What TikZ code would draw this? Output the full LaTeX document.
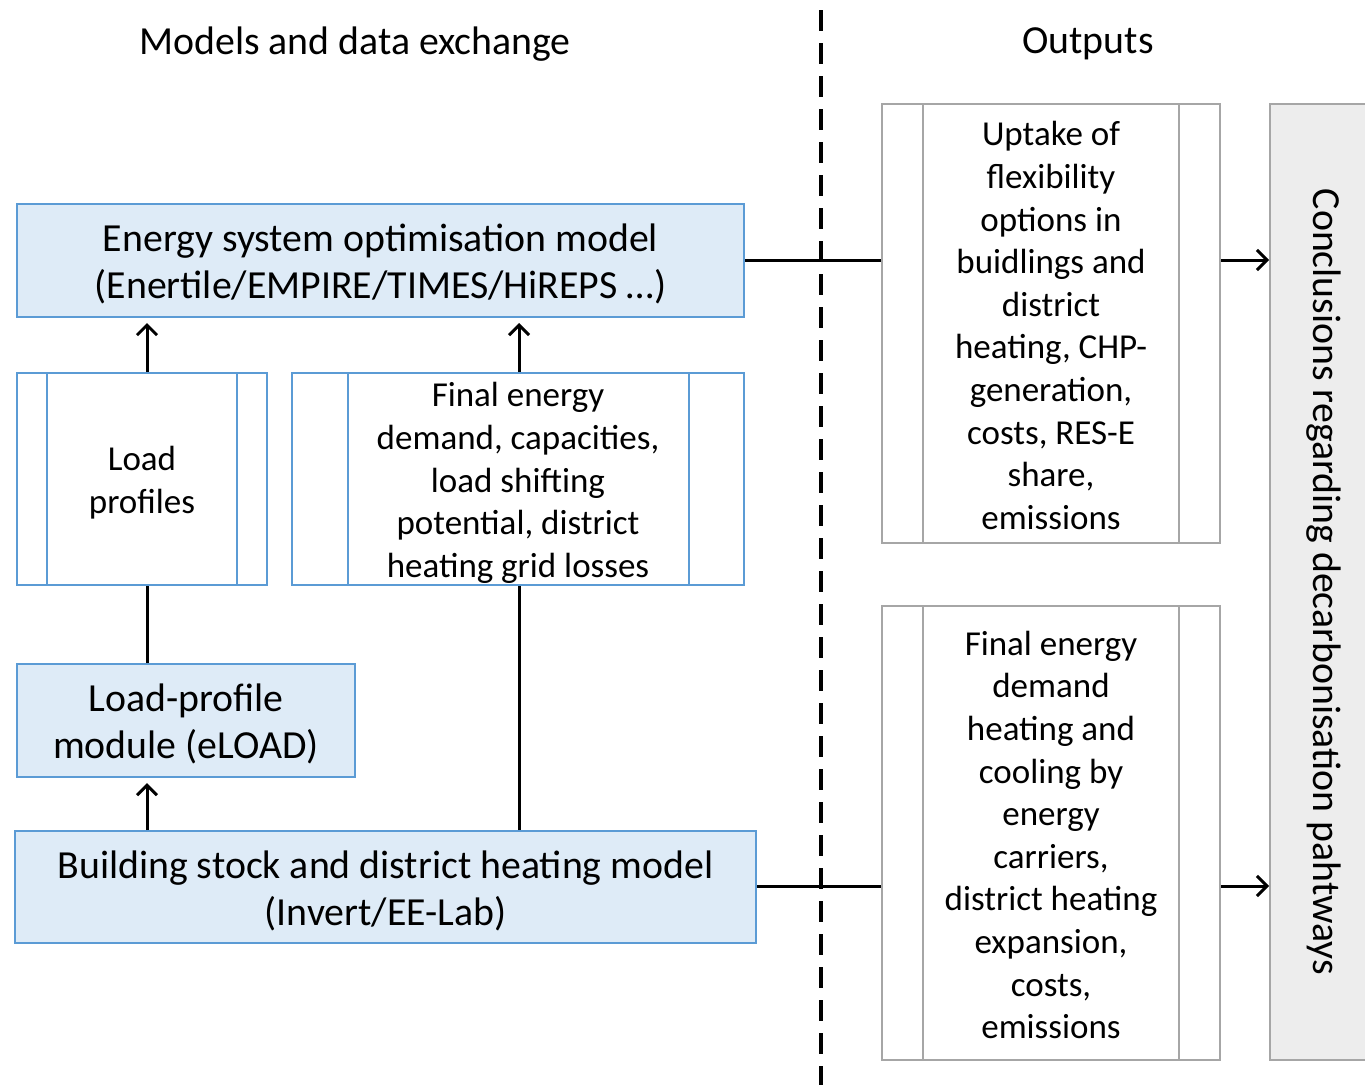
\documentclass[tikz,border=0pt]{standalone}
\usepackage{fontspec}
\setmainfont{Carlito}
\usetikzlibrary{arrows.meta}
\definecolor{bfill}{HTML}{DEEBF7}
\definecolor{bline}{HTML}{5B9BD5}
\definecolor{gline}{HTML}{A6A6A6}
\definecolor{gfill}{HTML}{EDEDED}
\tikzset{
  x=1pt,y=1pt,
  bigtxt/.style={font=\fontsize{39.8}{47}\selectfont},
  smalltxt/.style={font=\fontsize{35}{42.6}\selectfont},
  bluebox/.style={draw=bline,fill=bfill,line width=2pt,inner sep=0pt},
  procbox/.style={draw=bline,fill=white,line width=2pt,inner sep=0pt},
  outbox/.style={draw=gline,fill=white,line width=2pt,inner sep=0pt},
  bt/.style={bigtxt,align=center,inner sep=0pt},
  st/.style={smalltxt,align=center,inner sep=0pt},
  conn/.style={line width=3pt},
  arr/.style={line width=3pt,-{Straight Barb[length=10pt,width=20pt,line width=3pt]}},
}
\begin{document}
\begin{tikzpicture}
\useasboundingbox (0,0) rectangle (1365,-1084);
% titles
\node[bigtxt] (t1) at (355,-44) {Models and data exchange};
\node[bigtxt] (t2) at (1088,-44) {Outputs};
% dashed divider
\coordinate (dtop) at (821,-10);
\coordinate (dbot) at (821,-1090);
\draw[line width=3.5pt,dash pattern=on 21pt off 12pt] (dtop) -- (dbot);
% blue boxes
\node[bluebox,minimum width=727pt,minimum height=113pt] (esom) at (380.5,-260.5) {};
\node[bt] (esomt) at ([yshift=-3.5pt]esom.center)
  {Energy system optimisation model\\(Enertile/EMPIRE/TIMES/HiREPS …)};
\node[bluebox,minimum width=338pt,minimum height=113pt] (lpm) at (186,-720.5) {};
\node[bt] (lpmt) at ([yshift=-3.5pt]lpm.center) {Load-profile\\module (eLOAD)};
\node[bluebox,minimum width=741pt,minimum height=112pt] (bsm) at (385.5,-887) {};
\node[bt] (bsmt) at ([yshift=-3.5pt]bsm.center)
  {Building stock and district heating model\\(Invert/EE-Lab)};
% process boxes
\node[procbox,minimum width=250pt,minimum height=212pt] (lp) at (142,-479) {};
\node[st] (lpt) at ([yshift=-3.5pt]lp.center) {Load\\profiles};
\draw[bline,line width=2pt] ([xshift=31pt]lp.north west) -- ([xshift=31pt]lp.south west);
\draw[bline,line width=2pt] ([xshift=-31pt]lp.north east) -- ([xshift=-31pt]lp.south east);
\node[procbox,minimum width=452pt,minimum height=212pt] (fed) at (518,-479) {};
\node[st] (fedt) at ([yshift=-4pt]fed.center)
  {Final energy\\demand, capacities,\\load shifting\\potential, district\\heating grid losses};
\draw[bline,line width=2pt] ([xshift=57pt]fed.north west) -- ([xshift=57pt]fed.south west);
\draw[bline,line width=2pt] ([xshift=-56pt]fed.north east) -- ([xshift=-56pt]fed.south east);
% output boxes
\node[outbox,minimum width=338pt,minimum height=439pt] (o1) at (1051,-323.5) {};
\node[st] (o1t) at ([yshift=-2pt]o1.center)
  {Uptake of\\flexibility\\options in\\buidlings and\\district\\heating, CHP-\\generation,\\costs, RES-E\\share,\\emissions};
\draw[gline,line width=2pt] ([xshift=42pt]o1.north west) -- ([xshift=42pt]o1.south west);
\draw[gline,line width=2pt] ([xshift=-42pt]o1.north east) -- ([xshift=-42pt]o1.south east);
\node[outbox,minimum width=338pt,minimum height=454pt] (o2) at (1051,-833) {};
\node[st] (o2t) at ([yshift=-2pt]o2.center)
  {Final energy\\demand\\heating and\\cooling by\\energy\\carriers,\\district heating\\expansion,\\costs,\\emissions};
\draw[gline,line width=2pt] ([xshift=42pt]o2.north west) -- ([xshift=42pt]o2.south west);
\draw[gline,line width=2pt] ([xshift=-42pt]o2.north east) -- ([xshift=-42pt]o2.south east);
% conclusions box
\node[draw=gline,fill=gfill,line width=2pt,minimum width=98pt,minimum height=956pt,inner sep=0pt] (conc) at (1319,-582) {};
\node[bigtxt,rotate=-90] (conct) at (1324,-582) {Conclusions regarding decarbonisation pahtways};
% connectors
\draw[arr] (lp.north -| 147,0) -- ([yshift=-5pt]esom.south -| 147,0);
\draw[arr] (fed.north -| 519,0) -- ([yshift=-5pt]esom.south -| 519,0);
\draw[conn] (lpm.north -| 147,0) -- (lp.south -| 147,0);
\draw[arr] (bsm.north -| 147,0) -- ([yshift=-5pt]lpm.south -| 147,0);
\draw[conn] (bsm.north -| 519,0) -- (fed.south -| 519,0);
\draw[conn] (esom.east |- 0,-260) -- (o1.west |- 0,-260);
\draw[conn] (bsm.east |- 0,-886) -- (o2.west |- 0,-886);
\draw[arr] (o1.east |- 0,-260) -- (conc.west |- 0,-260);
\draw[arr] (o2.east |- 0,-886) -- (conc.west |- 0,-886);
\end{tikzpicture}
\end{document}
